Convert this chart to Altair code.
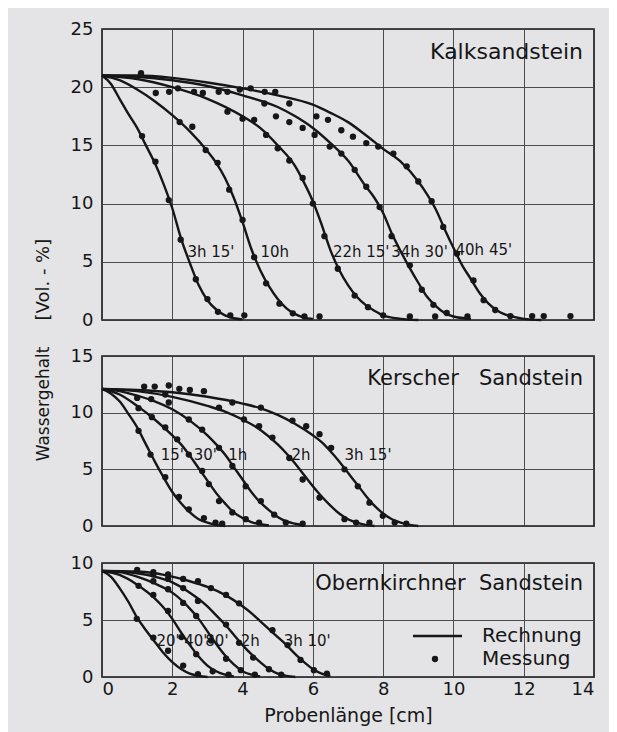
import altair as alt
import pandas as pd

# ---------------- Kalksandstein (top panel) ----------------
KALK_NAMES = ["3h 15'", "10h", "22h 15'", "34h 30'", "40h 45'"]
KALK_A_X = [0, 0.25, 0.5, 0.75, 1.0, 1.25, 1.5, 1.75, 2.0, 2.25, 2.5, 2.75, 3.0, 3.25, 3.5, 3.75, 4.0]
KALK_A_Y = [21, 20.3, 19.0, 17.7, 16.5, 15.0, 13.5, 11.7, 9.6, 7.0, 4.9, 3.0, 1.7, 0.9, 0.4, 0.15, 0.05]
KALK_B_X = [0, 0.5, 1.0, 1.5, 2.0, 2.5, 3.0, 3.25, 3.5, 3.75, 4.0, 4.25, 4.5, 4.75, 5.0, 5.25, 5.5, 5.75, 6.0]
KALK_B_Y = [21, 20.6, 19.8, 18.8, 17.6, 16.2, 14.5, 13.5, 12.2, 10.5, 8.4, 6.1, 4.3, 2.9, 1.8, 1.0, 0.5, 0.2, 0.1]
KALK_C_X = [0, 1, 2, 3, 4, 4.5, 5.0, 5.5, 5.75, 6.0, 6.25, 6.5, 6.75, 7.0, 7.25, 7.5, 7.75, 8.0, 8.5, 9.0]
KALK_C_Y = [21, 20.7, 20.0, 19.0, 17.5, 16.5, 15.0, 13.2, 11.8, 10.2, 8.2, 6.0, 4.3, 3.0, 2.0, 1.3, 0.8, 0.4, 0.1, 0.0]
KALK_D_X = [0, 1, 2, 3, 4, 5, 5.5, 6, 6.5, 7, 7.5, 7.75, 8.0, 8.25, 8.5, 8.75, 9.0, 9.25, 9.5, 9.75, 10.0, 10.5]
KALK_D_Y = [21, 20.9, 20.6, 20.1, 19.3, 18.3, 17.5, 16.5, 15.2, 13.7, 11.5, 10.5, 9.2, 7.4, 5.9, 4.5, 3.2, 2.0, 1.2, 0.6, 0.3, 0.1]
KALK_E_X = [0, 1, 2, 3, 4, 5, 6, 6.5, 7, 7.5, 8, 8.5, 9.0, 9.25, 9.5, 9.75, 10.0, 10.25, 10.5, 10.75, 11.0, 11.25, 11.5, 11.75, 12.0, 12.5]
KALK_E_Y = [21, 21.0, 20.8, 20.4, 19.9, 19.3, 18.5, 17.8, 17.0, 15.9, 14.7, 13.6, 11.9, 10.8, 9.5, 7.8, 6.2, 4.7, 3.5, 2.3, 1.4, 0.8, 0.45, 0.25, 0.1, 0.0]
KALK_DOT_X = [1.14, 1.52, 1.9, 2.24, 2.67, 3.0, 3.3, 3.65, 4.05,
              2.21, 2.57, 2.95, 3.29, 3.62, 4.0, 4.33, 4.67, 5.05, 5.43, 5.76, 6.19,
              3.57, 4.0, 4.33, 4.67, 5.0, 5.33, 5.71, 6.0, 6.33, 6.71, 7.19, 7.57, 8.0, 8.76,
              4.95, 5.33, 5.71, 6.05, 6.48, 6.81, 7.19, 7.52, 7.9, 8.24, 8.76, 9.1, 9.43, 9.81, 9.48, 10.4,
              4.62, 5.33, 6.1, 6.43, 6.81, 7.14, 7.52, 7.86, 8.29, 8.67, 9.0, 9.38, 9.71, 10.1, 10.57, 10.86,
              11.19, 11.62, 12.24, 12.57, 13.33,
              1.11, 1.53, 1.91, 2.16, 2.62, 2.87, 3.32, 3.57, 3.92, 4.23, 4.63, 4.93]
KALK_DOT_Y = [15.8, 13.6, 10.3, 6.9, 3.5, 1.8, 0.7, 0.4, 0.4,
              17.0, 16.6, 14.6, 13.5, 11.2, 8.6, 5.4, 3.15, 1.4, 0.57, 0.3, 0.3,
              17.9, 17.3, 17.2, 15.9, 14.75, 13.7, 12.2, 10.0, 7.2, 4.4, 2.1, 1.1, 0.4, 0.3,
              17.5, 17.0, 16.5, 15.9, 14.9, 14.3, 12.9, 11.45, 9.7, 7.2, 4.7, 2.6, 1.3, 0.6, 0.3, 0.3,
              18.6, 18.6, 17.5, 17.2, 16.3, 15.75, 15.2, 14.9, 14.3, 13.2, 11.9, 10.2, 8.0, 5.7, 3.4, 1.7,
              0.86, 0.34, 0.34, 0.34, 0.34,
              21.2, 19.5, 19.6, 19.9, 19.6, 19.5, 19.6, 19.6, 19.8, 19.9, 19.6, 19.6]
KALK_LABEL_X = [2.43, 4.51, 6.57, 8.23, 10.06]
KALK_LABEL_Y = [5.85, 5.85, 5.85, 5.85, 6.0]

# ---------------- Kerscher Sandstein (middle panel) ----------------
KER_NAMES = ["15'", "30'", "1h", "2h", "3h 15'"]
KER_A_X = [0, 0.25, 0.5, 0.75, 1.0, 1.25, 1.5, 1.75, 2.0, 2.25, 2.5, 2.75, 3.0, 3.25, 3.5]
KER_A_Y = [12.1, 11.7, 11.0, 9.9, 8.7, 7.2, 5.7, 4.3, 3.0, 2.0, 1.2, 0.6, 0.3, 0.1, 0.0]
KER_B_X = [0, 0.5, 1.0, 1.5, 2.0, 2.25, 2.5, 2.75, 3.0, 3.25, 3.5, 3.75, 4.0, 4.25, 4.5, 4.75]
KER_B_Y = [12.1, 11.6, 10.6, 9.4, 8.0, 7.2, 6.2, 5.1, 4.0, 2.9, 2.0, 1.2, 0.7, 0.35, 0.15, 0.05]
KER_C_X = [0, 0.5, 1, 1.5, 2.0, 2.5, 3.0, 3.25, 3.5, 3.75, 4.0, 4.25, 4.5, 4.75, 5.0, 5.25, 5.5, 5.75]
KER_C_Y = [12.1, 11.9, 11.5, 11.0, 10.3, 9.3, 8.0, 7.2, 6.3, 5.2, 4.1, 3.0, 2.1, 1.4, 0.8, 0.4, 0.2, 0.05]
KER_D_X = [0, 1, 2, 3, 3.5, 4, 4.5, 5.0, 5.25, 5.5, 5.75, 6.0, 6.25, 6.5, 6.75, 7.0, 7.25, 7.5, 7.75]
KER_D_Y = [12.1, 11.9, 11.4, 10.6, 10.1, 9.4, 8.5, 7.2, 6.4, 5.5, 4.5, 3.5, 2.6, 1.8, 1.1, 0.6, 0.3, 0.1, 0.0]
KER_E_X = [0, 1, 2, 3, 4, 4.5, 5, 5.5, 6.0, 6.25, 6.5, 6.75, 7.0, 7.25, 7.5, 7.75, 8.0, 8.25, 8.5, 8.75, 9.0]
KER_E_Y = [12.1, 12.0, 11.8, 11.4, 10.8, 10.4, 9.8, 9.0, 8.0, 7.4, 6.6, 5.7, 4.7, 3.7, 2.7, 1.8, 1.1, 0.6, 0.3, 0.1, 0.0]
KER_DOT_X = [1.04, 1.38, 1.8, 2.19, 2.47, 2.9, 3.23, 3.42,
             1.04, 1.42, 1.8, 2.14, 2.47, 2.85, 3.04, 3.33, 3.71, 4.09, 4.47,
             1.9, 2.47, 2.85, 3.33, 3.71, 4.09, 4.52, 4.9, 5.23, 5.71,
             3.33, 4.04, 4.47, 4.85, 5.33, 5.71, 6.19, 6.9, 7.23, 7.61,
             3.71, 4.52, 5.42, 5.81, 6.19, 6.52, 6.9, 7.28, 7.61, 7.99, 8.33, 8.66,
             1.0, 1.2, 1.5, 1.9, 2.2, 2.5, 2.9, 1.4, 1.8]
KER_DOT_Y = [8.4, 6.3, 4.3, 2.56, 1.47, 0.7, 0.3, 0.2,
             10.4, 9.6, 8.7, 7.65, 6.3, 4.85, 3.7, 2.2, 1.2, 0.6, 0.3,
             10.9, 9.4, 8.5, 6.9, 5.3, 3.5, 2.2, 1.0, 0.3, 0.2,
             10.45, 9.4, 8.8, 7.8, 6.0, 4.1, 2.5, 0.6, 0.3, 0.3,
             10.9, 10.45, 9.3, 8.8, 8.1, 6.9, 5.0, 3.5, 2.06, 0.9, 0.3, 0.2,
             11.3, 12.3, 12.3, 12.4, 12.1, 12.0, 11.9, 11.2, 11.6]
KER_LABEL_X = [1.67, 2.61, 3.59, 5.39, 6.9]
KER_LABEL_Y = [6.27, 6.27, 6.27, 6.27, 6.27]

# ---------------- Obernkirchner Sandstein (bottom panel) ----------------
OBK_NAMES = ["20'", "40'", "80'", "2h", "3h 10'"]
OBK_A_X = [0, 0.25, 0.5, 0.75, 1.0, 1.25, 1.5, 1.75, 2.0, 2.25, 2.5, 2.75, 3.0]
OBK_A_Y = [9.3, 8.8, 7.8, 6.6, 5.2, 4.1, 3.1, 2.1, 1.3, 0.7, 0.3, 0.1, 0.0]
OBK_B_X = [0, 0.5, 1.0, 1.5, 1.75, 2.0, 2.25, 2.5, 2.75, 3.0, 3.25, 3.5, 3.75]
OBK_B_Y = [9.3, 8.95, 8.1, 6.9, 6.1, 5.1, 3.9, 2.8, 1.8, 1.0, 0.5, 0.2, 0.05]
OBK_C_X = [0, 0.5, 1.0, 1.5, 2.0, 2.5, 2.75, 3.0, 3.25, 3.5, 3.75, 4.0, 4.25, 4.5]
OBK_C_Y = [9.3, 9.2, 8.8, 8.2, 7.4, 6.0, 5.1, 4.0, 2.9, 1.9, 1.1, 0.5, 0.2, 0.05]
OBK_D_X = [0, 0.5, 1.0, 1.5, 2.0, 2.5, 3.0, 3.25, 3.5, 3.75, 4.0, 4.25, 4.5, 4.75, 5.0, 5.25, 5.5]
OBK_D_Y = [9.3, 9.25, 9.1, 8.8, 8.3, 7.4, 6.2, 5.4, 4.6, 3.7, 2.8, 2.0, 1.3, 0.7, 0.3, 0.1, 0.0]
OBK_E_X = [0, 1.0, 1.5, 2.0, 2.5, 3.0, 3.5, 4.0, 4.25, 4.5, 4.75, 5.0, 5.25, 5.5, 5.75, 6.0, 6.25, 6.5]
OBK_E_Y = [9.3, 9.25, 9.1, 8.8, 8.4, 7.9, 7.2, 6.2, 5.6, 4.9, 4.2, 3.5, 2.8, 2.0, 1.3, 0.7, 0.3, 0.1]
OBK_DOT_X = [0.99, 1.46, 1.88, 2.31, 2.73,
             1.04, 1.46, 1.88, 2.26, 2.68, 3.15, 3.6,
             1.46, 1.88, 2.31, 2.68, 3.1, 3.53, 3.95, 4.35,
             1.46, 1.88, 2.31, 2.73, 3.53, 3.9, 4.3, 4.75, 5.1,
             1.0, 1.46, 1.88, 2.31, 2.73, 3.1, 3.53, 3.9, 4.85, 5.28, 5.65, 6.03, 6.4]
OBK_DOT_Y = [5.1, 3.45, 2.3, 1.0, 0.25,
             8.0, 7.2, 5.8, 3.5, 2.0, 0.5, 0.2,
             8.4, 7.7, 6.5, 5.35, 3.2, 1.6, 0.6, 0.2,
             9.0, 8.6, 7.8, 6.67, 4.6, 3.0, 1.7, 0.68, 0.2,
             9.4, 9.2, 9.0, 8.6, 8.4, 7.8, 7.2, 6.46, 4.1, 2.8, 1.5, 0.6, 0.3]
OBK_LABEL_X = [1.55, 2.34, 2.94, 3.95, 5.17]
OBK_LABEL_Y = [3.16, 3.16, 3.16, 3.16, 3.16]

X_TICKS = [0, 2, 4, 6, 8, 10, 12, 14]
LEGEND_LABELS = ["Rechnung", "Messung"]

FONT = "DejaVu Sans"
INK = "#161616"
BG = "#e4e4e7"
PLOT_W = 492


def curves_df(names, xs_list, ys_list):
    rows = []
    for n, xs, ys in zip(names, xs_list, ys_list):
        for i, (a, b) in enumerate(zip(xs, ys)):
            rows.append({"curve": n, "i": i, "x": a, "y": b})
    return pd.DataFrame(rows)


def panel(names, xs_list, ys_list, dot_x, dot_y, lab_x, lab_y, title, ymax, height,
          title_y, bottom=False, ytitle=None, legend=False, title_size=21):
    xaxis = dict(values=X_TICKS, grid=True, gridColor="#3a3a3a", gridWidth=0.9,
                 domain=False, ticks=False, labels=bottom)
    if bottom:
        xaxis.update(title="Probenlänge [cm]", labelFontSize=18, labelPadding=3,
                     titleFontSize=19, titlePadding=8, titleFontWeight="normal")
    else:
        xaxis.update(title=None, minExtent=0, maxExtent=0, labelPadding=0)
    yaxis = dict(values=list(range(0, ymax + 1, 5)), grid=True, gridColor="#3a3a3a",
                 gridWidth=0.9, domain=False, ticks=False, labelFontSize=18,
                 labelPadding=9)
    if ytitle is not None:
        yaxis.update(title=ytitle[0], titleAnchor=ytitle[1], titleX=-50,
                     titleFontSize=ytitle[3], titleFontWeight="normal")
        if ytitle[2] is not None:
            yaxis.update(titleY=ytitle[2])
    else:
        yaxis.update(title=None)

    xs = alt.X("x:Q", scale=alt.Scale(domain=[0, 14], nice=False, zero=False), axis=alt.Axis(**xaxis))
    ys = alt.Y("y:Q", scale=alt.Scale(domain=[0, ymax], nice=False), axis=alt.Axis(**yaxis))

    lines = alt.Chart(curves_df(names, xs_list, ys_list)).mark_line(
        color=INK, strokeWidth=2.4, interpolate="monotone"
    ).encode(x=xs, y=ys, detail="curve:N", order="i:Q")

    dots = alt.Chart(pd.DataFrame({"x": dot_x, "y": dot_y})).mark_circle(
        color=INK, size=40, opacity=1
    ).encode(x="x:Q", y="y:Q")

    labs = alt.Chart(pd.DataFrame({"x": lab_x, "y": lab_y, "t": names})).mark_text(
        align="left", baseline="middle", fontSize=15, font=FONT, color=INK
    ).encode(x="x:Q", y="y:Q", text="t:N")

    ttl = alt.Chart(pd.DataFrame({"t": [title]})).mark_text(
        align="right", baseline="middle", fontSize=title_size, font=FONT, color=INK
    ).encode(x=alt.value(PLOT_W - 11), y=alt.value(title_y), text="t:N")

    layers = [lines, dots, labs, ttl]
    if legend:
        leg_line = alt.Chart(pd.DataFrame({"k": [LEGEND_LABELS[0]]})).mark_rule(
            color=INK, strokeWidth=2.4
        ).encode(x=alt.value(311), x2=alt.value(360), y=alt.value(73))
        leg_dot = alt.Chart(pd.DataFrame({"k": [LEGEND_LABELS[1]]})).mark_circle(
            color=INK, size=40, opacity=1
        ).encode(x=alt.value(333), y=alt.value(96))
        leg_txt = alt.Chart(pd.DataFrame({"t": LEGEND_LABELS, "yy": [73, 96]})).mark_text(
            align="left", baseline="middle", fontSize=20, font=FONT, color=INK
        ).encode(x=alt.value(380), y=alt.Y("yy:Q", scale=None), text="t:N")
        layers += [leg_line, leg_dot, leg_txt]

    return alt.layer(*layers).properties(width=PLOT_W, height=height)


nbsp = "\u00a0"
p1 = panel(KALK_NAMES, [KALK_A_X, KALK_B_X, KALK_C_X, KALK_D_X, KALK_E_X],
           [KALK_A_Y, KALK_B_Y, KALK_C_Y, KALK_D_Y, KALK_E_Y],
           KALK_DOT_X, KALK_DOT_Y, KALK_LABEL_X, KALK_LABEL_Y,
           "Kalksandstein", 25, 291, 23, ytitle=("[Vol. - %]", "start", None, 18),
           title_size=22)
p2 = panel(KER_NAMES, [KER_A_X, KER_B_X, KER_C_X, KER_D_X, KER_E_X],
           [KER_A_Y, KER_B_Y, KER_C_Y, KER_D_Y, KER_E_Y],
           KER_DOT_X, KER_DOT_Y, KER_LABEL_X, KER_LABEL_Y,
           "Kerscher" + nbsp * 3 + "Sandstein", 15, 170, 23,
           ytitle=("Wassergehalt", "end", -10, 17))
p3 = panel(OBK_NAMES, [OBK_A_X, OBK_B_X, OBK_C_X, OBK_D_X, OBK_E_X],
           [OBK_A_Y, OBK_B_Y, OBK_C_Y, OBK_D_Y, OBK_E_Y],
           OBK_DOT_X, OBK_DOT_Y, OBK_LABEL_X, OBK_LABEL_Y,
           "Obernkirchner" + nbsp * 2 + "Sandstein", 10, 114, 21, bottom=True, legend=True)

top_two = alt.vconcat(p1, p2, spacing=15)
chart = alt.vconcat(top_two, p3, spacing=17).properties(
    background=BG,
    padding={"left": 25, "top": 11, "right": 14, "bottom": 7},
).configure_view(
    stroke=INK, strokeWidth=1.6, fill=BG
).configure_axis(
    labelFont=FONT, titleFont=FONT, labelColor=INK, titleColor=INK
)

chart.save("out.html", embed_options={"renderer": "svg", "actions": False})
